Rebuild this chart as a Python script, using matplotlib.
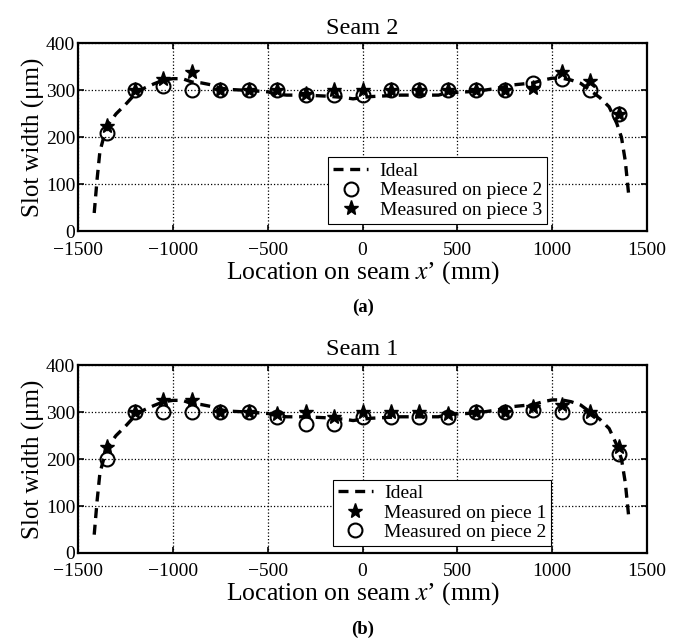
import matplotlib
matplotlib.use('Agg')
import matplotlib.pyplot as plt
import numpy as np

plt.rcParams['font.family'] = ['Liberation Serif', 'DejaVu Serif']
plt.rcParams['mathtext.fontset'] = 'stix'

# measurement locations along the seam (mm)
loc_x = [-1350, -1200, -1050, -900, -750, -600, -450, -300, -150, 0,
         150, 300, 450, 600, 750, 900, 1050, 1200, 1350]

# ideal slot width profile (um)
ideal_x = [-1415, -1400, -1385, -1365, -1340, -1300, -1250, -1200, -1150, -1100,
           -1050, -1000, -950, -900, -850, -800, -750, -700, -600, -500,
           -450, -400, -300, -200, -100, -50, 0, 50, 100, 200,
           300, 400, 450, 500, 600, 700, 800, 900, 950, 1000,
           1050, 1100, 1150, 1200, 1250, 1300, 1340, 1365, 1385, 1405]
ideal_y = [39, 110, 170, 200, 228, 250, 270, 292, 305, 314,
           322, 325, 325, 318, 316, 312, 305, 302, 300, 297,
           292, 290, 290, 288, 285, 282, 285, 287, 288, 290,
           290, 290, 295, 296, 298, 304, 312, 316, 322, 326,
           326, 322, 315, 300, 285, 265, 230, 200, 150, 70]

# seam 2
s2_piece2 = [210, 300, 310, 300, 300, 300, 300, 290, 290, 290,
             300, 300, 300, 300, 300, 315, 325, 300, 250]
s2_piece3 = [225, 300, 325, 340, 300, 300, 300, 292, 300, 300,
             300, 300, 300, 300, 300, 305, 340, 320, 250]

# seam 1
s1_piece1 = [225, 300, 325, 325, 300, 300, 295, 300, 290, 300,
             300, 300, 295, 300, 300, 310, 315, 300, 225]
s1_piece2 = [200, 300, 300, 300, 300, 300, 290, 275, 275, 290,
             290, 290, 290, 300, 300, 305, 300, 290, 210]

fig = plt.figure(figsize=(6.79, 6.39), dpi=100)
ax_top = fig.add_axes([0.115, 0.638, 0.838, 0.294])
ax_bot = fig.add_axes([0.115, 0.1346, 0.838, 0.294])

circ = dict(linestyle='none', marker='o', markersize=10, markerfacecolor='none',
            markeredgecolor='black', markeredgewidth=1.5)
star = dict(linestyle='none', marker='*', markersize=11, color='black')


def style_axes(ax, title, label):
    ax.set_xlim(-1500, 1500)
    ax.set_ylim(0, 400)
    ax.set_xticks([-1500, -1000, -500, 0, 500, 1000, 1500])
    ax.set_yticks([0, 100, 200, 300, 400])
    ax.grid(True, linestyle=':', color='black', linewidth=0.9)
    ax.tick_params(direction='in', top=True, right=True, length=4, width=1.2,
                   labelsize=14, pad=2)
    ax.tick_params(axis='x', pad=7.5)
    for sp in ax.spines.values():
        sp.set_linewidth(1.6)
    ax.set_title(title, fontsize=17.5, pad=7)
    ax.set_ylabel('Slot width (\u03bcm)', fontsize=18, labelpad=1)
    ax.set_xlabel('Location on seam $x$\u2019 (mm)', fontsize=18.5, labelpad=0)
    ax.text(0.5, -0.36, label, transform=ax.transAxes, ha='center', va='top',
            fontsize=13.5, fontweight='bold')


def add_legend(ax, anchor):
    leg = ax.legend(loc='lower right', bbox_to_anchor=anchor, fontsize=14,
                    frameon=True, fancybox=False, edgecolor='black', framealpha=1,
                    handlelength=1.8, borderpad=0.25, labelspacing=0.1,
                    handletextpad=0.6, borderaxespad=0)
    leg.get_frame().set_linewidth(0.8)


# (a) seam 2
ax_top.plot(ideal_x, ideal_y, color='black', linewidth=2.4,
            linestyle=(0, (3.0, 2.0)), label='Ideal')
ax_top.plot(loc_x, s2_piece2, label='Measured on piece 2', **circ)
ax_top.plot(loc_x, s2_piece3, label='Measured on piece 3', **star)
style_axes(ax_top, 'Seam 2', '(a)')
add_legend(ax_top, (0.824, 0.04))

# (b) seam 1
ax_bot.plot(ideal_x, ideal_y, color='black', linewidth=2.4,
            linestyle=(0, (3.0, 2.0)), label='Ideal')
ax_bot.plot(loc_x, s1_piece1, label='Measured on piece 1', **star)
ax_bot.plot(loc_x, s1_piece2, label='Measured on piece 2', **circ)
style_axes(ax_bot, 'Seam 1', '(b)')
add_legend(ax_bot, (0.832, 0.037))

fig.savefig('out.png', dpi=100)
